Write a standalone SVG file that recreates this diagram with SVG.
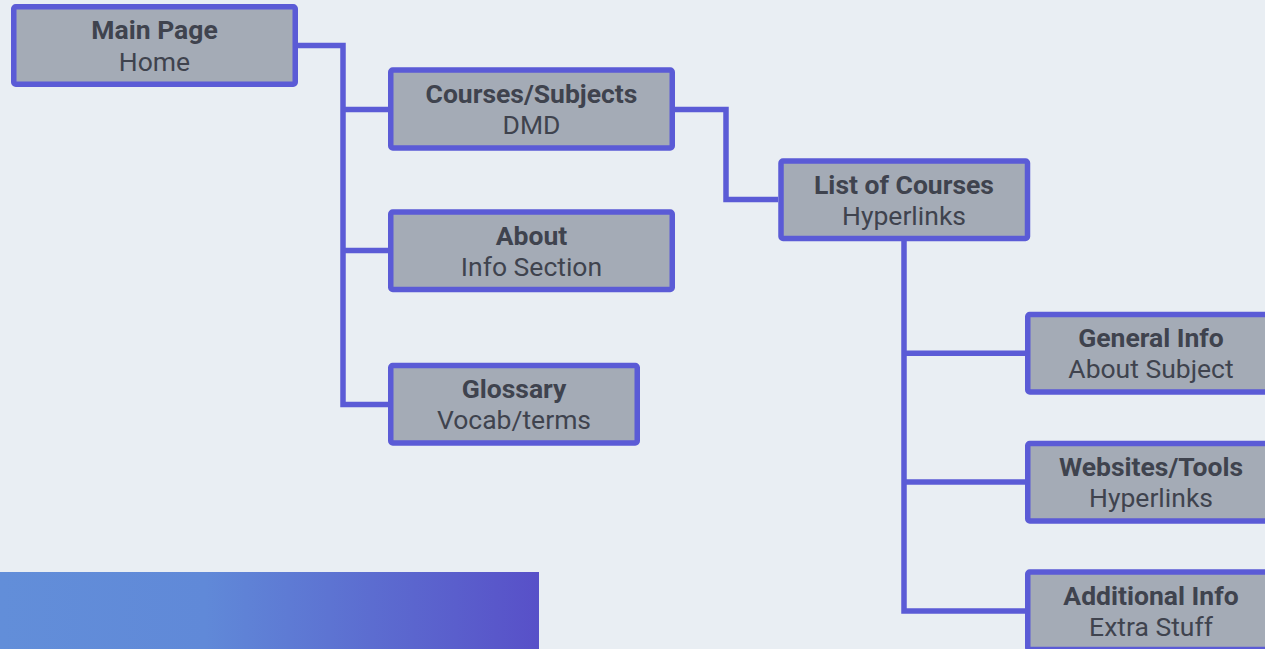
<svg xmlns="http://www.w3.org/2000/svg" width="1265" height="649" viewBox="0 0 1265 649">
<defs>
<linearGradient id="bar" x1="0" y1="0" x2="1" y2="0">
<stop offset="0" stop-color="#628ED9"/>
<stop offset="0.38" stop-color="#6089D8"/>
<stop offset="1" stop-color="#5850C8"/>
</linearGradient>
<style>
.box{fill:#A4ABB6;stroke:#5B5BD6;stroke-width:5.5}
.conn{fill:none;stroke:#5B5BD6;stroke-width:5.5;stroke-linejoin:miter}
.t{font-family:Roboto,"Liberation Sans",sans-serif;font-size:26.5px;fill:#3F434E;text-anchor:middle}
.b{font-weight:bold}
</style>
</defs>
<rect x="0" y="0" width="1265" height="649" fill="#E9EEF3"/>
<rect x="0" y="572" width="539" height="77" fill="url(#bar)"/>
<g id="connectors">
<path class="conn" d="M298 45.5H343V404.5H388"/>
<path class="conn" d="M343 109.5H388"/>
<path class="conn" d="M343 250.5H388"/>
<path class="conn" d="M675 109.5H726V199.5H778"/>
<path class="conn" d="M904 241V611H1025"/>
<path class="conn" d="M904 353.3H1025"/>
<path class="conn" d="M904 482H1025"/>
</g>
<g id="main">
<rect class="box" x="13.75" y="6.75" width="281.5" height="77.5" rx="2"/>
<text class="t b" x="154.5" y="39.3">Main Page</text>
<text class="t" x="154.5" y="70.7">Home</text>
</g>
<g id="courses">
<rect class="box" x="390.75" y="70" width="281.5" height="78" rx="2"/>
<text class="t b" x="531.5" y="102.7">Courses/Subjects</text>
<text class="t" x="531.5" y="134">DMD</text>
</g>
<g id="about">
<rect class="box" x="390.75" y="212" width="281.5" height="77.5" rx="2"/>
<text class="t b" x="531.5" y="244.7">About</text>
<text class="t" x="531.5" y="276">Info Section</text>
</g>
<g id="glossary">
<rect class="box" x="390.75" y="365.5" width="246.5" height="77.5" rx="2"/>
<text class="t b" x="514" y="398">Glossary</text>
<text class="t" x="514" y="429.4">Vocab/terms</text>
</g>
<g id="list">
<rect class="box" x="781" y="161" width="246.5" height="77.5" rx="2"/>
<text class="t b" x="904" y="193.6">List of Courses</text>
<text class="t" x="904" y="225">Hyperlinks</text>
</g>
<g id="general">
<rect class="box" x="1027.75" y="314.5" width="246.5" height="77.5" rx="2"/>
<text class="t b" x="1151" y="347">General Info</text>
<text class="t" x="1151" y="378.4">About Subject</text>
</g>
<g id="websites">
<rect class="box" x="1027.75" y="443.5" width="246.5" height="77.5" rx="2"/>
<text class="t b" x="1151" y="476">Websites/Tools</text>
<text class="t" x="1151" y="507.4">Hyperlinks</text>
</g>
<g id="additional">
<rect class="box" x="1027.75" y="572" width="246.5" height="77.5" rx="2"/>
<text class="t b" x="1151" y="604.6">Additional Info</text>
<text class="t" x="1151" y="636">Extra Stuff</text>
</g>
</svg>
